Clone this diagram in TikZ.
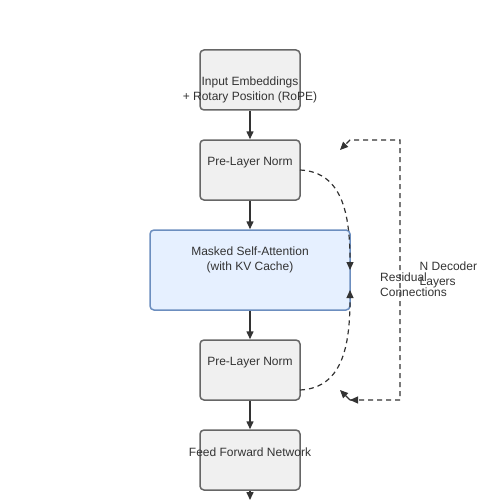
\documentclass[tikz,border=0pt]{standalone}
\usepackage{fontspec}
\setmainfont{Liberation Sans}
\usetikzlibrary{arrows.meta}
\definecolor{txt}{HTML}{333333}
\definecolor{bord}{HTML}{666666}
\definecolor{boxfill}{HTML}{F0F0F0}
\definecolor{blfill}{HTML}{E6F0FF}
\definecolor{blbord}{HTML}{6C8EBF}
\begin{document}
\begin{tikzpicture}[x=1pt,y=-1pt,
  box/.style={draw=bord,fill=boxfill,line width=1.5pt,rounded corners=4pt},
  bbox/.style={draw=blbord,fill=blfill,line width=1.5pt,rounded corners=4pt},
  lbl/.style={font=\fontsize{12}{15}\selectfont,text=txt,align=center,inner sep=0pt},
  llbl/.style={font=\fontsize{12}{15}\selectfont,text=txt,align=left,inner sep=0pt,anchor=west},
  flow/.style={draw=txt,line width=1.5pt,-{Triangle[length=8pt,width=7pt]}},
  dflow/.style={draw=txt,line width=1.2pt,dash pattern=on 5pt off 4pt},
  tip/.style={-{Triangle[length=8pt,width=7pt]}}
]
\useasboundingbox (0,0) rectangle (500,500);
% boxes
\node[box,minimum width=100pt,minimum height=60pt,inner sep=0pt] (inp) at (250,80) {};
\node[box,minimum width=100pt,minimum height=60pt,inner sep=0pt] (ln1) at (250,170) {};
\node[bbox,minimum width=200pt,minimum height=80pt,inner sep=0pt] (att) at (250,270) {};
\node[box,minimum width=100pt,minimum height=60pt,inner sep=0pt] (ln2) at (250,370) {};
\node[box,minimum width=100pt,minimum height=60pt,inner sep=0pt] (ffn) at (250,460) {};
% texts
\node[lbl] (tinp) at (250,90) {Input Embeddings\\+ Rotary Position (RoPE)};
\node[lbl] (tln1) at (250,162.5) {Pre-Layer Norm};
\node[lbl] (tatt) at (250,260) {Masked Self-Attention\\(with KV Cache)};
\node[lbl] (tln2) at (250,362.5) {Pre-Layer Norm};
\node[lbl] (tffn) at (250,452.5) {Feed Forward Network};
\node[llbl] (res) at (380,285) {Residual\\Connections};
\node[llbl] (ndl) at (419.5,275) {N Decoder\\Layers};
% coordinates
\coordinate (out) at (250,500);
\coordinate (c1s) at (300,170);
\coordinate (c1e) at (350,270);
\coordinate (c2s) at (300,390);
\coordinate (c2e) at (350,290);
\coordinate (lb0) at (340,390);
\coordinate (lb1) at (350,400);
\coordinate (lb2) at (400,400);
\coordinate (lb3) at (400,140);
\coordinate (lb4) at (350,140);
\coordinate (lb5) at (340,150);
% solid flow
\draw[flow] (inp.south) -- (ln1.north);
\draw[flow] (ln1.south) -- (att.north);
\draw[flow] (att.south) -- (ln2.north);
\draw[flow] (ln2.south) -- (ffn.north);
\draw[flow] (ffn.south) -- (out);
% residual curves
\draw[dflow,tip] (c1s) .. controls (345,172) and (350,220) .. (c1e);
\draw[dflow,tip] (c2s) .. controls (345,388) and (350,340) .. (c2e);
% decoder loop
\draw[dflow,tip] (lb1) -- (lb2) -- (lb3) -- (lb4) -- (lb5);
\draw[draw=txt,line width=1.2pt,tip] (lb1) -- (lb0);
\draw[draw=txt,line width=1.2pt,tip] (354,400) -- (lb1);
\end{tikzpicture}
\end{document}
